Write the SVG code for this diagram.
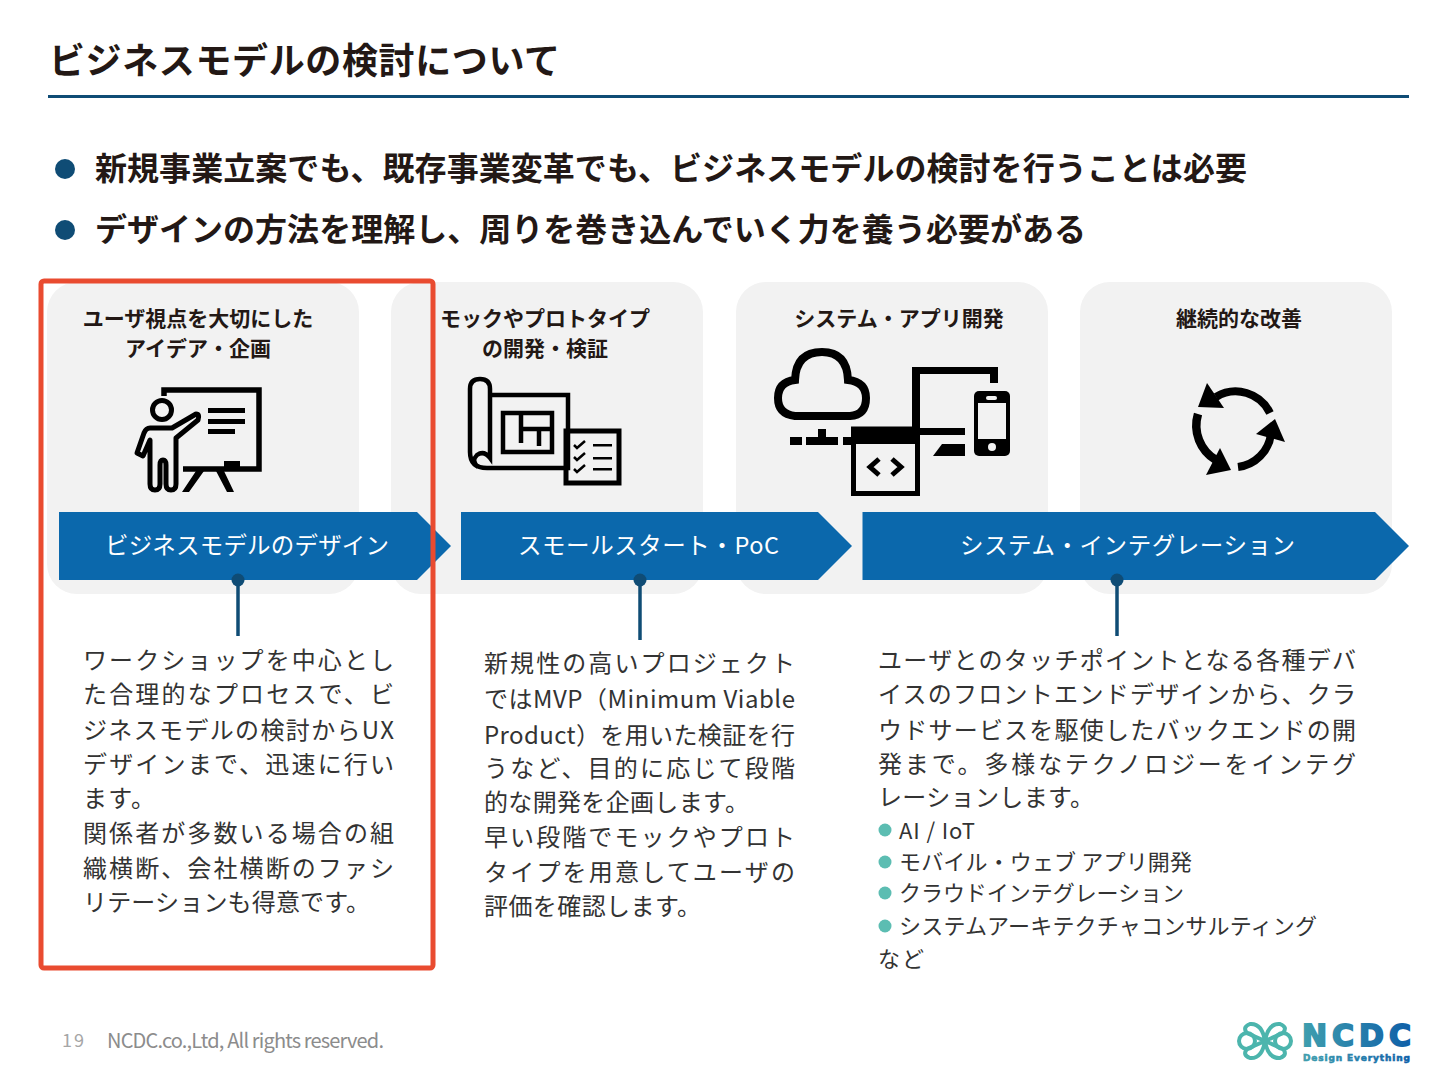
<svg xmlns="http://www.w3.org/2000/svg" width="1440" height="1080" viewBox="0 0 1440 1080">
<defs>
<linearGradient id="lg" gradientUnits="userSpaceOnUse" x1="1302" x2="1411" y1="0" y2="0"><stop offset="0" stop-color="#3f9fae"/><stop offset="1" stop-color="#0f5fa8"/></linearGradient>
</defs>
<style>
text{font-family:"Noto Sans CJK JP","Noto Sans",sans-serif;fill:#231815}
.t{font-size:36px;font-weight:700}
.b{font-size:32px;font-weight:700}
.h{font-size:21px;font-weight:700;text-anchor:middle}
.w{font-size:23.5px;fill:#fff;font-weight:400}
.p{font-size:24px;font-weight:400;fill:#333}
.s{font-size:22px;font-weight:400;fill:#333}
.card{fill:#f2f2f2}
.ban{fill:#0b68ac}
.k{fill:#000}
.o{fill:none;stroke:#000}
.ln{stroke:#0f4c75;stroke-width:3.5;fill:none}
.dot{fill:#0f4c75}
.g{fill:#5cbdb2}
.lt{stroke:#4cb5ad;stroke-width:4;fill:none}
</style>
<g id="title"><text class="t" x="49" y="74" textLength="511">ビジネスモデルの検討について</text><rect x="48" y="95" width="1361" height="3" fill="#0f4c75"/></g>
<g id="bullets">
<circle cx="65" cy="169" r="10" fill="#0f4c75"/><text class="b" x="95" y="180" textLength="1152">新規事業立案でも、既存事業変革でも、ビジネスモデルの検討を行うことは必要</text>
<circle cx="65" cy="230" r="10" fill="#0f4c75"/><text class="b" x="95" y="241" textLength="991">デザインの方法を理解し、周りを巻き込んでいく力を養う必要がある</text>
</g>
<g id="card1"><rect class="card" x="47" y="282" width="312" height="312" rx="30"/><text class="h" x="198" y="326">ユーザ視点を大切にした</text><text class="h" x="198" y="356">アイデア・企画</text>
<g id="icon1">
<path class="o" stroke-width="5.5" d="M164 396V390H259V469H183"/>
<circle class="o" stroke-width="5" cx="162" cy="410" r="9.5"/>
<rect class="k" x="208" y="408" width="37" height="5"/><rect class="k" x="208" y="419" width="37" height="5"/><rect class="k" x="208" y="429" width="27" height="5"/>
<rect class="k" x="224" y="461" width="16" height="7"/>
<path class="k" d="M196 471h8l-15 21h-7zM216 471h8l10 21h-7z"/>
<path class="o" stroke-width="5" stroke-linejoin="round" d="M196 414L172 428H150Q146 428 144 433L137 453L143 456L150 440V484Q150 490 155 490Q160 490 160 484V465Q160 460 163 460Q166 460 166 465V484Q166 490 171 490Q176 490 176 484V438L198 420Q200 414 196 414Z"/>
</g></g>
<g id="card2"><rect class="card" x="391" y="282" width="312" height="312" rx="30"/><text class="h" x="545" y="326">モックやプロトタイプ</text><text class="h" x="545" y="356">の開発・検証</text>
<g id="icon2">
<path class="o" stroke-width="4.5" d="M491 395H568V468H487Q470 468 470 452V389Q470 379 480 379Q490 379 490 389V458Q484 450 477 455Q471 461 478 467"/>
<path class="o" stroke-width="4.5" d="M503 413H552V452H503ZM521 413V443M521 429H552M539 429V446"/>
<rect class="o" x="566" y="431" width="53" height="52" stroke-width="5" fill="#f2f2f2"/>
<path class="o" stroke-width="2.5" d="M574 445l3 3 8-7M574 457l3 3 8-7M574 469l3 3 8-7"/>
<path class="k" d="M593 444h19v2.500h-19zM593 457h19v2.500h-19zM593 468h19v2.500h-19z"/>
</g></g>
<g id="card3"><rect class="card" x="736" y="282" width="312" height="312" rx="30"/><text class="h" x="899" y="326">システム・アプリ開発</text>
<g id="icon3">
<path class="o" stroke-width="8" d="M795 416Q778 414 778 398Q778 382 795 380Q796 352 822 352Q847 352 848 380Q866 382 866 398Q866 415 850 416Z"/>
<path class="k" d="M790 437h12v8h-12zM806 437h12v-8h8v8h12v8h-32zM843 437h9v8h-9z"/>
<path class="k" d="M912 367H998V383H990V374H920V428H965V435H920V443H912Z"/>
<rect class="k" x="851" y="427" width="69" height="17"/>
<rect class="o" x="853.500" y="429" width="64" height="64.500" stroke-width="5"/>
<path class="o" stroke-width="5" d="M879 459l-9 8 9 8M892 459l9 8-9 8"/>
<path class="k" d="M942 444H965V456H933Z"/>
<rect class="k" x="974" y="391" width="36" height="65" rx="5"/>
<rect x="978" y="403" width="28" height="36" fill="#f2f2f2"/>
<rect x="986" y="396" width="11" height="4" rx="2" fill="#f2f2f2"/>
<circle cx="992" cy="447" r="4" fill="#f2f2f2"/>
</g></g>
<g id="card4"><rect class="card" x="1080" y="282" width="312" height="312" rx="30"/><text class="h" x="1239" y="326">継続的な改善</text>
<g id="icon4">
<path class="o" stroke-width="8" d="M1270 413A38 38 0 0 0 1216 397"/><path class="k" d="M1207 383L1198 407L1224 408Z"/>
<path class="o" stroke-width="8.500" d="M1198 414A40 40 0 0 0 1216 460"/><path class="k" d="M1220 448L1206 475L1231 470Z"/>
<path class="o" stroke-width="8" d="M1238 467A38 38 0 0 0 1271 434"/><path class="k" d="M1275 419L1256 434L1285 442Z"/>
</g></g>
<g id="band1"><path class="ban" d="M59 512H417L451 546L417 580H59Z"/><text class="w" x="105" y="554" textLength="284">ビジネスモデルのデザイン</text></g>
<g id="band2"><path class="ban" d="M461 512H818L852 546L818 580H461Z"/><text class="w" x="518" y="554" textLength="261">スモールスタート・PoC</text></g>
<g id="band3"><path class="ban" d="M862.500 512H1375L1409 546L1375 580H862.500Z"/><text class="w" x="960" y="554" textLength="335">システム・インテグレーション</text></g>
<g id="connectors">
<line class="ln" x1="238" y1="580" x2="238" y2="636"/><circle class="dot" cx="238" cy="580" r="6.500"/>
<line class="ln" x1="640" y1="580" x2="640" y2="640"/><circle class="dot" cx="640" cy="580" r="6.500"/>
<line class="ln" x1="1117" y1="580" x2="1117" y2="636"/><circle class="dot" cx="1117" cy="580" r="6.500"/>
</g>
<g id="text1">
<text class="p" x="83" y="669" textLength="311">ワークショップを中心とし</text>
<text class="p" x="83" y="703" textLength="311">た合理的なプロセスで、ビ</text>
<text class="p" x="83" y="739" textLength="311">ジネスモデルの検討からUX</text>
<text class="p" x="83" y="773" textLength="311">デザインまで、迅速に行い</text>
<text class="p" x="83" y="807" textLength="72">ます。</text>
<text class="p" x="83" y="842" textLength="311">関係者が多数いる場合の組</text>
<text class="p" x="83" y="877" textLength="311">織横断、会社横断のファシ</text>
<text class="p" x="83" y="911" textLength="287">リテーションも得意です。</text>
</g>
<g id="text2">
<text class="p" x="484" y="672" textLength="311">新規性の高いプロジェクト</text>
<text class="p" x="484" y="708" textLength="311">ではMVP（Minimum Viable</text>
<text class="p" x="484" y="744" textLength="311">Product）を用いた検証を行</text>
<text class="p" x="484" y="777" textLength="311">うなど、目的に応じて段階</text>
<text class="p" x="484" y="811" textLength="265">的な開発を企画します。</text>
<text class="p" x="484" y="846" textLength="311">早い段階でモックやプロト</text>
<text class="p" x="484" y="881" textLength="311">タイプを用意してユーザの</text>
<text class="p" x="484" y="915" textLength="217">評価を確認します。</text>
</g>
<g id="text3">
<text class="p" x="878" y="669" textLength="478">ユーザとのタッチポイントとなる各種デバ</text>
<text class="p" x="878" y="703" textLength="478">イスのフロントエンドデザインから、クラ</text>
<text class="p" x="878" y="739" textLength="478">ウドサービスを駆使したバックエンドの開</text>
<text class="p" x="878" y="773" textLength="478">発まで。多様なテクノロジーをインテグ</text>
<text class="p" x="878" y="806" textLength="216">レーションします。</text>
<circle class="g" cx="885" cy="830" r="6.500"/><text class="s" x="899" y="839" textLength="76">AI / IoT</text>
<circle class="g" cx="885" cy="862" r="6.500"/><text class="s" x="899" y="870" textLength="293">モバイル・ウェブ アプリ開発</text>
<circle class="g" cx="885" cy="893" r="6.500"/><text class="s" x="899" y="901" textLength="285">クラウドインテグレーション</text>
<circle class="g" cx="885" cy="926" r="6.500"/><text class="s" x="899" y="934" textLength="418">システムアーキテクチャコンサルティング</text>
<text class="s" x="878" y="967" textLength="46">など</text>
</g>
<g id="highlight"><rect x="41" y="281" width="392" height="687" rx="3" fill="none" stroke="#e94b30" stroke-width="5"/></g>
<g id="footer">
<text x="62" y="1047" font-size="18" textLength="22" style="fill:#a6a6a6">19</text>
<text x="107" y="1048" font-size="20" textLength="277" style="fill:#8c8c8c">NCDC.co.,Ltd, All rights reserved.</text>
<g id="logo">
<g class="lt">
<circle cx="1247" cy="1041" r="8"/><circle cx="1283" cy="1041" r="8"/>
<path d="M1265 1041Q1262 1023 1250 1024Q1242 1027 1247 1033Q1256 1037 1265 1041Q1256 1045 1247 1049Q1242 1055 1250 1058Q1262 1059 1265 1041"/>
<path d="M1265 1041Q1268 1023 1280 1024Q1288 1027 1283 1033Q1274 1037 1265 1041Q1274 1045 1283 1049Q1288 1055 1280 1058Q1268 1059 1265 1041"/>
</g>
<text x="1302" y="1045.500" font-size="30" font-weight="700" textLength="109" style="fill:url(#lg);stroke:url(#lg);stroke-width:1.800;font-family:'DejaVu Sans',sans-serif">NCDC</text>
<text x="1303" y="1061" font-size="9" font-weight="700" textLength="107" style="fill:url(#lg);stroke:url(#lg);stroke-width:.6;font-family:'DejaVu Sans',sans-serif">Design Everything</text>
</g>
</g>
</svg>
